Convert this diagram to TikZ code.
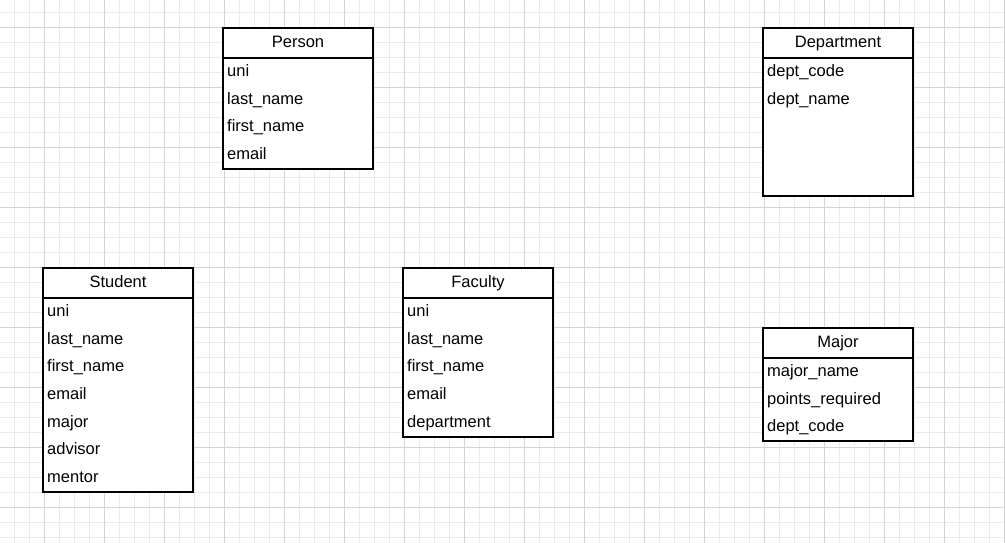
\documentclass[tikz,border=0pt]{standalone}
\usepackage{fontspec}
\setmainfont{Liberation Sans}
\usetikzlibrary{positioning}

\tikzset{
    gridminor/.style={draw=black!8, line width=0.8pt},
    gridmajor/.style={draw=black!17, line width=0.8pt},
    headbox/.style={draw=black, line width=1.4pt, fill=white, outer sep=0pt,
        minimum width=150pt, minimum height=30pt, anchor=north west,
        text height=12pt, text depth=3pt, font=\fontsize{16.5}{20}\selectfont},
    bodybox/.style={draw=black, line width=1.4pt, fill=white, outer sep=0pt,
        minimum width=150pt},
    fieldtext/.style={anchor=base west, inner sep=0pt, font=\fontsize{16.5}{20}\selectfont},
}

% one table: name, x, y, body height, title, fields
\newcommand{\erentity}[6]{%
    \node[headbox] (#1) at (#2,#3) {#5};
    \node[bodybox, minimum height=#4pt, below=0pt of #1] (#1-body) {};
    \foreach \f [count=\i] in {#6}{
        \node[fieldtext] (#1-f\i) at ([xshift=4pt, yshift={-18.3pt-27.7pt*(\i-1)}]#1-body.north west) {\f};
    }
}

\begin{document}
\begin{tikzpicture}[x=1pt, y=-1pt]
    \useasboundingbox (0,0) rectangle (1005,543);

    % Grid
    \foreach \x in {14,29,...,1004} { \draw[gridminor] (\x,0) -- (\x,543); }
    \foreach \y in {12,27,...,542} { \draw[gridminor] (0,\y) -- (1005,\y); }
    \foreach \x in {44,104,...,1004} { \draw[gridmajor] (\x,0) -- (\x,543); }
    \foreach \y in {27,87,...,542} { \draw[gridmajor] (0,\y) -- (1005,\y); }

    % Tables
    \erentity{person}{223}{28}{111}{Person}{uni,last\_name,first\_name,email}
    \erentity{department}{763}{28}{138}{Department}{dept\_code,dept\_name}
    \erentity{student}{43}{268}{194}{Student}{uni,last\_name,first\_name,email,major,advisor,mentor}
    \erentity{faculty}{403}{268}{139}{Faculty}{uni,last\_name,first\_name,email,department}
    \erentity{major}{763}{328}{83}{Major}{major\_name,points\_required,dept\_code}

\end{tikzpicture}
\end{document}
